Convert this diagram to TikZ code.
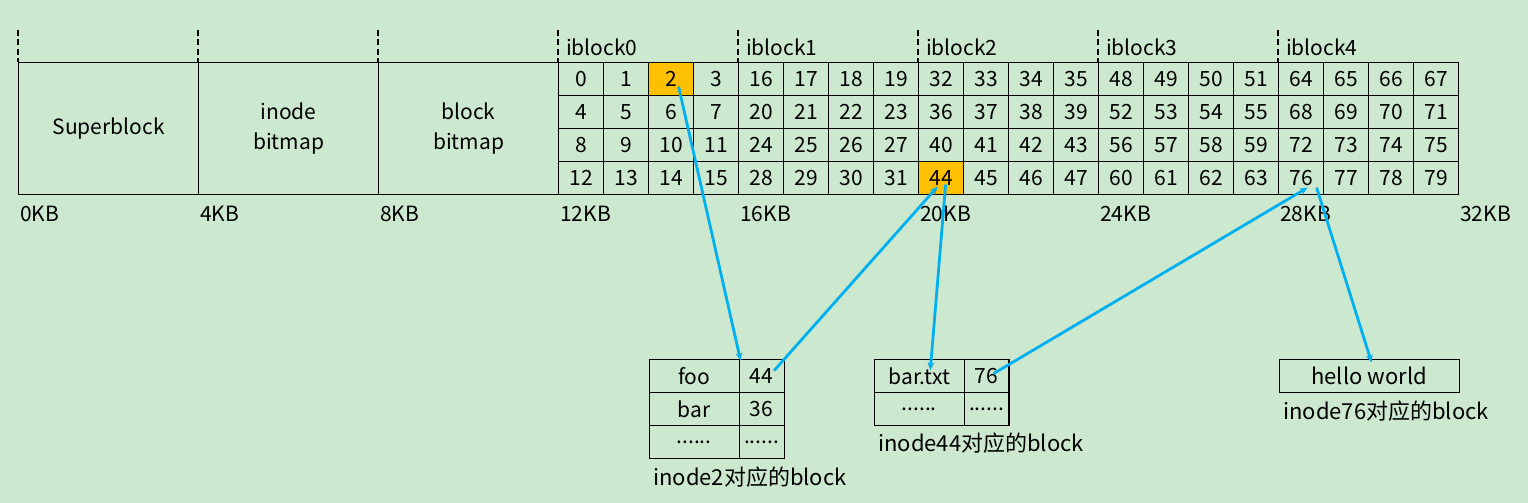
\documentclass[tikz,border=0pt]{standalone}
\usepackage{fontspec}
\setmainfont{Noto Sans CJK SC}
\usetikzlibrary{arrows.meta,calc}
\definecolor{bg}{RGB}{204,232,207}
\definecolor{hl}{RGB}{255,192,0}
\definecolor{arrowblue}{RGB}{0,176,240}
\begin{document}
\begin{tikzpicture}[x=1pt,y=-1pt,
  every node/.style={font=\fontsize{21}{30}\selectfont},
  cellbox/.style={draw,line width=1.2pt,minimum width=45pt,minimum height=33pt,inner sep=0pt,anchor=north west},
  bigbox/.style={draw,line width=1.2pt,minimum width=180pt,minimum height=132pt,inner sep=0pt,anchor=north west,align=center,text width=170pt},
  dashline/.style={line width=1.8pt,dash pattern=on 6pt off 3.5pt},
  lbl/.style={anchor=west,inner sep=0pt},
  cnlbl/.style={anchor=west,inner sep=0pt,font=\fontsize{22}{26}\selectfont},
  arr/.style={draw=arrowblue,line width=2.8pt,-{Stealth[length=8pt,width=7pt]}},
  tcell/.style={draw,line width=1.2pt,minimum height=33pt,inner sep=0pt,anchor=north west}
]
\useasboundingbox[fill=bg] (0,0) rectangle (1528,503);

% dashed separators
\foreach \x [count=\i] in {18,198,378,558,738,918,1098,1278}
  \draw[dashline] (\x,30) coordinate (dtop\i) -- (\x,62) coordinate (dbot\i);

% big boxes
\node[bigbox] (sb) at (18,62) {\raisebox{-2pt}{Superblock}};
\node[bigbox] (ib) at (198,62) {inode\\bitmap};
\node[bigbox] (bb) at (378,62) {block\\bitmap};

% iblock labels
\foreach \b in {0,...,4}
  \node[lbl] (ibl\b) at ({566+180*\b},47) {iblock\b};

% cells
\foreach \b in {0,...,4}
  \foreach \r in {0,...,3}
    \foreach \c in {0,...,3}{
      \pgfmathtruncatemacro{\n}{16*\b+4*\r+\c}
      \node[cellbox] (c\n) at ({558+180*\b+45*\c},{62+33*\r}) {\n};
    }
% highlighted cells
\node[cellbox,fill=hl] (h2) at (648,62) {2};
\node[cellbox,fill=hl] (h44) at (918,161) {44};

% KB labels
\foreach \x/\t [count=\i] in {18/0KB,198/4KB,378/8KB,558/12KB,738/16KB,918/20KB,1098/24KB,1278/28KB,1458/32KB}
  \node[lbl] (kb\i) at (\x+2,214) {\t};

% table 1
\node[tcell,minimum width=90pt] (foo) at (648.5,359) {foo};
\node[tcell,minimum width=45pt] (v44) at (738.5,359) {44};
\node[tcell,minimum width=90pt] (bar) at (648.5,392) {bar};
\node[tcell,minimum width=45pt] (v36) at (738.5,392) {36};
\node[tcell,minimum width=90pt] (d1) at (648.5,425) {......};
\node[tcell,minimum width=45pt] (d2) at (738.5,425) {......};
\node[cnlbl] (l1) at (653,477) {inode2对应的block};

% table 2
\node[tcell,minimum width=90pt] (bartxt) at (873.7,359) {bar.txt};
\node[tcell,minimum width=44.6pt] (v76) at (963.7,359) {76};
\node[tcell,minimum width=90pt] (d3) at (873.7,392) {......};
\node[tcell,minimum width=44.6pt] (d4) at (963.7,392) {......};
\node[cnlbl] (l2) at (878,443) {inode44对应的block};

% table 3
\node[tcell,minimum width=180pt,font=\fontsize{22}{26}\selectfont] (hw) at (1278.5,359) {hello world};
\node[cnlbl] (l3) at (1283,411) {inode76对应的block};

% arrows
\draw[arr] ($(h2.center)+(7.5,7.5)$) -- ($(foo.center)+(46.5,-15.5)$);
\draw[arr] ($(v44.center)+(12.5,-5.5)$) -- ($(h44.center)+(-3.5,8.5)$);
\draw[arr] ($(h44.center)+(4.5,6.5)$) -- ($(bartxt.center)+(11,-6)$);
\draw[arr] ($(v76.center)+(7,-2.5)$) -- ($(c76.center)+(6.5,9.5)$);
\draw[arr] ($(c76.center)+(15.5,9.5)$) -- ($(hw.center)+(2.5,-13.5)$);
\end{tikzpicture}
\end{document}
